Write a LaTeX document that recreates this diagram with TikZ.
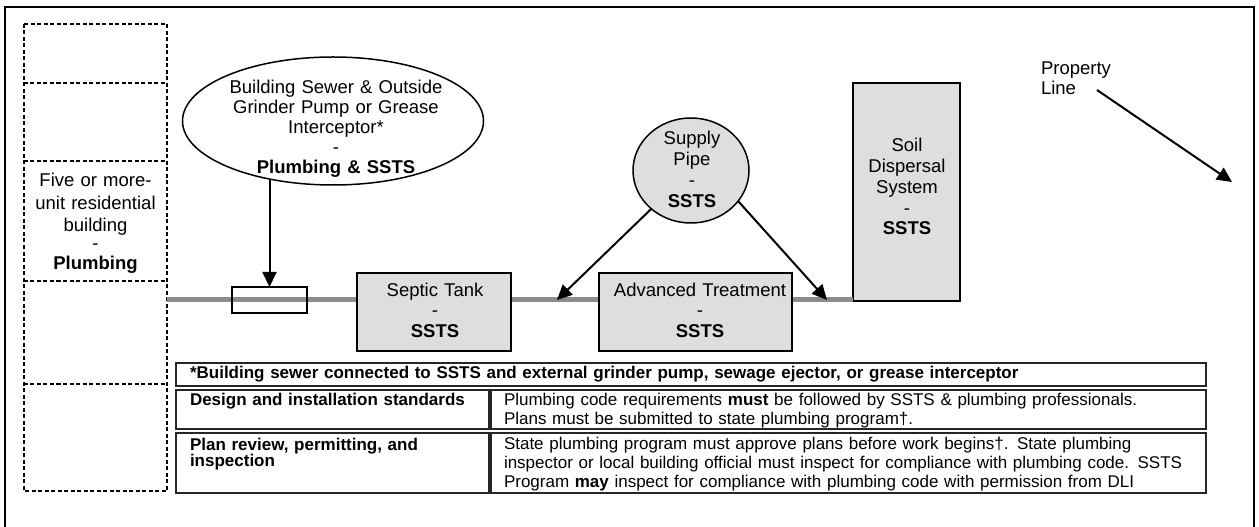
\documentclass[tikz,border=0pt]{standalone}
\usepackage{fontspec}
\setmainfont{Liberation Sans}
\usetikzlibrary{shapes.geometric,arrows.meta}

\definecolor{boxgray}{gray}{0.87}
\definecolor{pipegray}{gray}{0.55}

% font size with a fixed line pitch that survives a minipage
\newcommand\sizedfont[2]{\fontsize{#1}{#2}\selectfont
  \normalbaselineskip=#2\relax\baselineskip=#2\relax}

\begin{document}
\begin{tikzpicture}[x=1bp,y=-1bp,
  every node/.style={inner sep=0pt, outer sep=0pt},
  fs/.style 2 args={font=\sizedfont{#1}{#2},
                    execute at begin node={\sizedfont{#1}{#2}}},
  label/.style={align=center, anchor=base},
  unitbox/.style={draw, line width=1.8bp, fill=boxgray},
  zoneline/.style={line width=1.5bp, dash pattern=on 4bp off 2.5bp},
  zone/.style={minimum width=143bp},
  cellbox/.style={draw=black!85, line width=1.1bp},
  celltext/.style={align=left, anchor=base west},
  flow/.style={line width=2bp, -{Triangle[length=15bp,width=14bp]}},
  pipe/.style={draw=pipegray, line width=5bp},
]
\useasboundingbox (0,0) rectangle (1259,527);

% outer frame (runs past the lower page edge)
\draw[line width=1.2bp] (5,530) -- (5,7) -- (1254,7) -- (1254,530);

% dashed column of building zones
\node[zone, minimum height=59bp]  (z1) at (95.5,53.5) {};
\node[zone, minimum height=78bp]  (z2) at (95.5,122) {};
\node[zone, minimum height=120bp] (z3) at (95.5,221) {};
\node[zone, minimum height=103bp] (z4) at (95.5,332.5) {};
\node[zone, minimum height=107bp] (z5) at (95.5,437.5) {};
\draw[zoneline] (z1.north west) rectangle (z5.south east);
\foreach \z in {z1,z2,z3,z4}
  \draw[zoneline] (\z.south west) -- (\z.south east);
\node[label, fs={18.5bp}{22.5bp}, text width=143bp] (bldg) at (95.5,186.7)
  {Five or more-\\unit residential\\building\\[-5bp]-\\[-2.5bp]\textbf{Plumbing}};

% sewer line
\coordinate (pipein) at (167,300);
\node[unitbox, minimum width=107bp, minimum height=218bp] (soil) at (906.5,192) {};
\draw[pipe] (pipein) -- (pipein -| soil.west);

% components along the line
\node[draw, line width=1.5bp, minimum width=75bp, minimum height=26bp] (grinder) at (269.5,300) {};
\node[unitbox, minimum width=154bp, minimum height=78bp] (septic) at (434,312) {};
\node[unitbox, minimum width=193bp, minimum height=78bp] (atu) at (695.5,312) {};

\node[label, fs={18.5bp}{20.2bp}, text width=150bp] (septictxt) at (435,296.7)
  {Septic Tank\\-\\\textbf{SSTS}};
\node[label, fs={18.5bp}{20.2bp}, text width=190bp] (atutxt) at (700,296.7)
  {Advanced Treatment\\-\\\textbf{SSTS}};
\node[label, fs={18.5bp}{20.7bp}, text width=107bp] (soiltxt) at (907,152)
  {Soil\\Dispersal\\System\\-\\\textbf{SSTS}};

% building sewer ellipse
\node[ellipse, draw, line width=1.5bp, minimum width=301bp, minimum height=128bp] (sewer) at (333,121) {};
\node[label, fs={18.5bp}{20bp}, text width=280bp] (sewertxt) at (336,93.3)
  {Building Sewer \& Outside\\Grinder Pump or Grease\\Interceptor*\\-\\\textbf{Plumbing \& SSTS}};
\draw[flow] (sewer.223 -| grinder.north) -- (grinder.north);

% supply pipe circle
\node[ellipse, draw, line width=1.5bp, fill=boxgray, minimum width=116bp, minimum height=105bp] (supply) at (691,170.5) {};
\node[label, fs={18.5bp}{21bp}, text width=110bp] (supplytxt) at (692,145)
  {Supply\\Pipe\\-\\\textbf{SSTS}};
\coordinate (jleft) at (557,300);
\coordinate (jright) at (827,300);
\draw[flow] (supply.224) -- (jleft);
\draw[flow] (supply.327) -- (jright);

% property line
\node[fs={18.5bp}{20bp}, align=left, anchor=base west, text width=100bp] (prop) at (1041,75)
  {Property\\Line};
\coordinate (propfrom) at (1097,90);
\coordinate (propto) at (1232,182);
\draw[flow] (propfrom) -- (propto);

% code requirements table
\node[cellbox, minimum width=1030bp, minimum height=23bp] (row1) at (691,374.5) {};
\node[cellbox, minimum width=313bp, minimum height=39bp] (r2a) at (332.5,409.5) {};
\node[cellbox, minimum width=715bp, minimum height=39bp] (r2b) at (848.5,409.5) {};
\node[cellbox, minimum width=313bp, minimum height=60bp] (r3a) at (332.5,463) {};
\node[cellbox, minimum width=715bp, minimum height=60bp] (r3b) at (848.5,463) {};

\node[celltext, fs={17bp}{19bp}, text width=1010bp] (row1txt) at (190,379)
  {\textbf{*Building sewer connected to SSTS and external grinder pump, sewage ejector, or grease interceptor}};
\node[celltext, fs={17bp}{19bp}, text width=295bp] (r2atxt) at (190,405)
  {\textbf{Design and installation standards}};
\node[celltext, fs={17bp}{19.3bp}, text width=700bp] (r2btxt) at (504,405)
  {Plumbing code requirements \textbf{must} be followed by SSTS \& plumbing professionals.\\
   Plans must be submitted to state plumbing program†.};
\node[celltext, fs={17bp}{16.7bp}, text width=295bp] (r3atxt) at (190,450)
  {\textbf{Plan review, permitting, and}\\\textbf{inspection}};
\node[celltext, fs={17bp}{19bp}, text width=700bp] (r3btxt) at (504,449)
  {State plumbing program must approve plans before work begins†. State plumbing\\
   inspector or local building official must inspect for compliance with plumbing code. SSTS\\
   Program \textbf{may} inspect for compliance with plumbing code with permission from DLI};
\end{tikzpicture}
\end{document}
